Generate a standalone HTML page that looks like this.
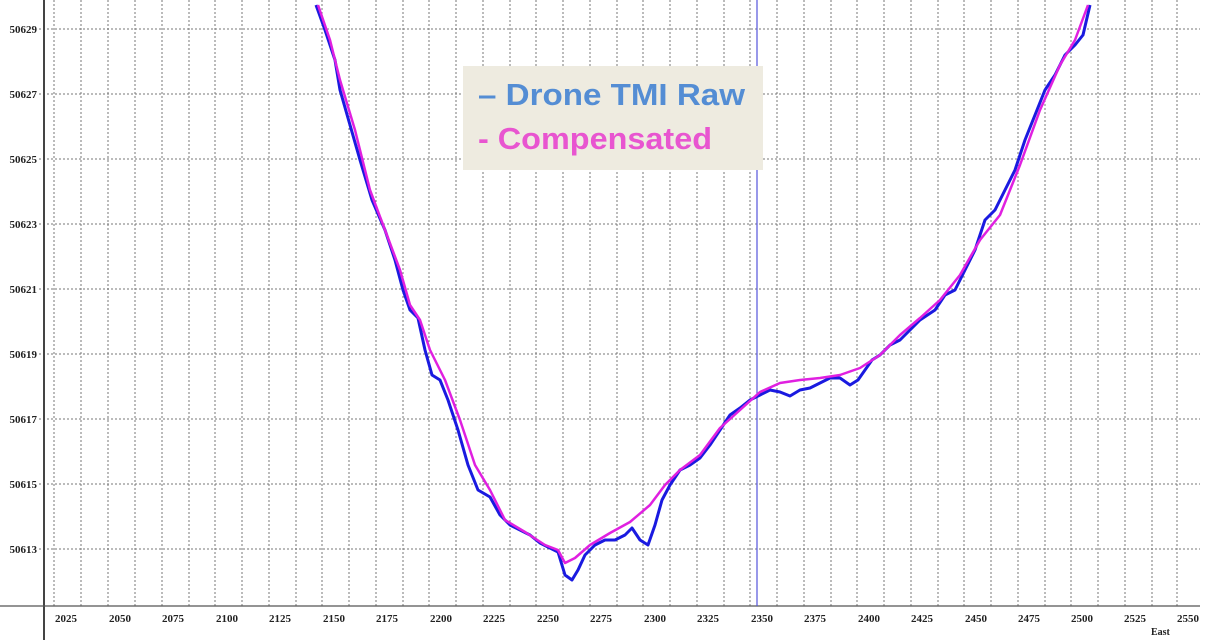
<!DOCTYPE html>
<html><head><meta charset="utf-8"><style>html,body{margin:0;padding:0;background:#fff}svg{display:block}</style></head>
<body>
<svg width="1211" height="640" viewBox="0 0 1211 640" xmlns="http://www.w3.org/2000/svg" font-family="Liberation Serif, serif">
<rect width="1211" height="640" fill="#fff"/>
<g stroke="#777" stroke-width="1" stroke-dasharray="2,2">
<line x1="54" y1="0" x2="54" y2="606"/><line x1="81" y1="0" x2="81" y2="606"/><line x1="108" y1="0" x2="108" y2="606"/><line x1="135" y1="0" x2="135" y2="606"/><line x1="162" y1="0" x2="162" y2="606"/><line x1="189" y1="0" x2="189" y2="606"/><line x1="215" y1="0" x2="215" y2="606"/><line x1="242" y1="0" x2="242" y2="606"/><line x1="269" y1="0" x2="269" y2="606"/><line x1="296" y1="0" x2="296" y2="606"/><line x1="322" y1="0" x2="322" y2="606"/><line x1="349" y1="0" x2="349" y2="606"/><line x1="376" y1="0" x2="376" y2="606"/><line x1="403" y1="0" x2="403" y2="606"/><line x1="429" y1="0" x2="429" y2="606"/><line x1="456" y1="0" x2="456" y2="606"/><line x1="483" y1="0" x2="483" y2="606"/><line x1="510" y1="0" x2="510" y2="606"/><line x1="536" y1="0" x2="536" y2="606"/><line x1="563" y1="0" x2="563" y2="606"/><line x1="590" y1="0" x2="590" y2="606"/><line x1="617" y1="0" x2="617" y2="606"/><line x1="643" y1="0" x2="643" y2="606"/><line x1="670" y1="0" x2="670" y2="606"/><line x1="697" y1="0" x2="697" y2="606"/><line x1="724" y1="0" x2="724" y2="606"/><line x1="750" y1="0" x2="750" y2="606"/><line x1="777" y1="0" x2="777" y2="606"/><line x1="804" y1="0" x2="804" y2="606"/><line x1="831" y1="0" x2="831" y2="606"/><line x1="857" y1="0" x2="857" y2="606"/><line x1="884" y1="0" x2="884" y2="606"/><line x1="911" y1="0" x2="911" y2="606"/><line x1="938" y1="0" x2="938" y2="606"/><line x1="964" y1="0" x2="964" y2="606"/><line x1="991" y1="0" x2="991" y2="606"/><line x1="1018" y1="0" x2="1018" y2="606"/><line x1="1045" y1="0" x2="1045" y2="606"/><line x1="1071" y1="0" x2="1071" y2="606"/><line x1="1098" y1="0" x2="1098" y2="606"/><line x1="1125" y1="0" x2="1125" y2="606"/><line x1="1152" y1="0" x2="1152" y2="606"/><line x1="1177" y1="0" x2="1177" y2="606"/>
<line x1="39" y1="29" x2="1200" y2="29"/><line x1="39" y1="94" x2="1200" y2="94"/><line x1="39" y1="159" x2="1200" y2="159"/><line x1="39" y1="224" x2="1200" y2="224"/><line x1="39" y1="289" x2="1200" y2="289"/><line x1="39" y1="354" x2="1200" y2="354"/><line x1="39" y1="419" x2="1200" y2="419"/><line x1="39" y1="484" x2="1200" y2="484"/><line x1="39" y1="549" x2="1200" y2="549"/>
</g>
<line x1="44" y1="0" x2="44" y2="640" stroke="#444" stroke-width="2"/>
<line x1="0" y1="606" x2="1200" y2="606" stroke="#555" stroke-width="1.2"/>
<line x1="757" y1="0" x2="757" y2="606" stroke="#5555dd" stroke-width="1.2"/>
<g font-size="11" font-weight="bold" fill="#222" text-anchor="end">
<text x="37" y="33">50629</text><text x="37" y="98">50627</text><text x="37" y="163">50625</text><text x="37" y="228">50623</text><text x="37" y="293">50621</text><text x="37" y="358">50619</text><text x="37" y="423">50617</text><text x="37" y="488">50615</text><text x="37" y="553">50613</text>
</g>
<g font-size="11" font-weight="bold" fill="#222">
<text x="55" y="622">2025</text><text x="109" y="622">2050</text><text x="162" y="622">2075</text><text x="216" y="622">2100</text><text x="269" y="622">2125</text><text x="323" y="622">2150</text><text x="376" y="622">2175</text><text x="430" y="622">2200</text><text x="483" y="622">2225</text><text x="537" y="622">2250</text><text x="590" y="622">2275</text><text x="644" y="622">2300</text><text x="697" y="622">2325</text><text x="751" y="622">2350</text><text x="804" y="622">2375</text><text x="858" y="622">2400</text><text x="911" y="622">2425</text><text x="965" y="622">2450</text><text x="1018" y="622">2475</text><text x="1071" y="622">2500</text><text x="1124" y="622">2525</text><text x="1177" y="622">2550</text>
<text x="1151" y="635" font-size="10">East</text>
</g>
<polyline fill="none" stroke="#1a1ae0" stroke-width="3" stroke-linejoin="round" points="316,5 325,30 335,60 340,90 350,125 360,160 372,200 385,230 395,260 403,290 410,310 418,318 425,350 432,375 440,380 448,400 458,430 468,465 478,490 490,497 500,515 510,525 520,530 530,535 540,543 550,548 558,552 565,575 572,580 578,570 585,555 595,545 605,540 615,540 625,535 632,528 640,540 648,545 655,525 662,500 670,485 680,470 690,465 700,458 710,445 720,430 730,415 740,408 750,400 760,395 770,390 780,392 790,396 800,390 810,388 820,383 830,378 840,378 850,385 858,380 865,370 872,360 880,355 890,345 900,340 910,330 920,320 935,310 945,295 955,290 965,270 975,250 985,220 995,210 1005,190 1015,170 1025,140 1035,115 1045,90 1055,75 1065,55 1075,45 1083,35 1090,5"/>
<polyline fill="none" stroke="#e020e0" stroke-width="2.5" stroke-linejoin="round" points="318,5 330,40 340,80 355,130 370,190 385,230 400,270 410,305 420,320 430,350 445,380 460,420 475,465 490,490 505,520 525,532 545,545 558,550 565,563 575,558 590,545 610,533 630,522 650,505 665,485 680,470 700,455 720,428 740,410 760,392 780,383 800,380 820,378 840,375 860,368 880,355 900,335 920,318 940,300 960,275 980,240 1000,215 1020,165 1040,110 1060,65 1075,40 1088,5"/>
<rect x="463" y="66" width="300" height="104" fill="#EEEBE0"/>
<g font-family="Liberation Sans, sans-serif" font-weight="bold" font-size="31">
<text x="478" y="105" fill="#548DD4" textLength="267" lengthAdjust="spacingAndGlyphs">– Drone TMI Raw</text>
<text x="478" y="149" fill="#E855D0" textLength="234" lengthAdjust="spacingAndGlyphs">- Compensated</text>
</g>
</svg>
</body></html>
